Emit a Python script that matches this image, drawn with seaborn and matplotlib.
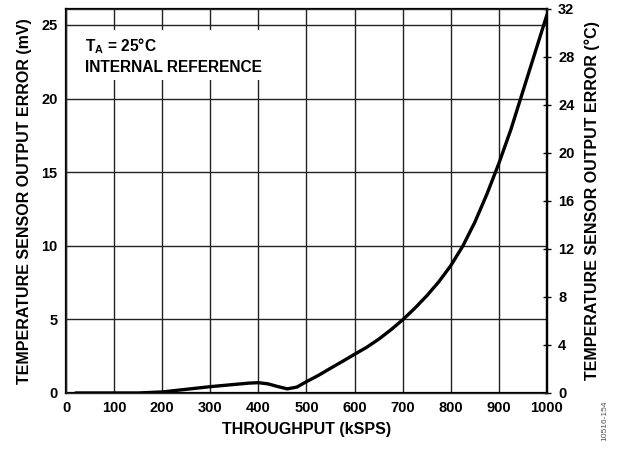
import matplotlib
matplotlib.use("Agg")

import matplotlib.pyplot as plt
import numpy as np
import pandas as pd
import seaborn as sns

# ─── DATA ────────────────────────────────────────────────────────
throughput = [20, 100, 150, 200, 250, 300, 350, 380, 400, 420, 440, 460, 480, 500,
              525, 550, 575, 600, 625, 650, 675, 700, 725, 750, 775, 800,
              825, 850, 875, 900, 925, 950, 975, 1000]
error_mv = [0.0, 0.0, 0.0, 0.07, 0.25, 0.43, 0.58, 0.67, 0.7, 0.62, 0.44, 0.28, 0.4, 0.77,
            1.2, 1.68, 2.15, 2.63, 3.1, 3.65, 4.28, 4.97, 5.75, 6.6, 7.55, 8.65,
            9.98, 11.6, 13.5, 15.6, 17.9, 20.5, 23.1, 25.7]

x_ticks = [0, 100, 200, 300, 400, 500, 600, 700, 800, 900, 1000]
y_ticks_mv = [0, 5, 10, 15, 20, 25]
y_ticks_c = [0, 4, 8, 12, 16, 20, 24, 28, 32]

FG = "#000000"
GRID = "#222222"
TICK_FS = 10.5
LABEL_FS = 11.5

sns.set_style("white")
plt.rcParams["font.family"] = ["Liberation Sans", "DejaVu Sans"]
plt.rcParams["font.weight"] = "bold"
plt.rcParams["text.color"] = FG
plt.rcParams["axes.labelcolor"] = FG
plt.rcParams["mathtext.fontset"] = "custom"
plt.rcParams["mathtext.rm"] = "Liberation Sans:bold"
plt.rcParams["mathtext.bf"] = "Liberation Sans:bold"
plt.rcParams["mathtext.it"] = "Liberation Sans:bold"

df = pd.DataFrame({"throughput": throughput, "error": error_mv})

fig = plt.figure(figsize=(6.18, 4.5), dpi=100)
ax = fig.add_axes([0.1068, 0.1267, 0.7783, 0.8533])

sns.lineplot(data=df, x="throughput", y="error", ax=ax, color=FG,
             linewidth=2.4, zorder=4)

ax.set_xlim(0, 1000)
ax.set_ylim(0, 26.08)
ax.set_xticks(x_ticks)
ax.set_yticks(y_ticks_mv)
ax.set_xticklabels([str(v) for v in x_ticks], fontsize=TICK_FS, fontweight="bold")
ax.set_yticklabels([str(v) for v in y_ticks_mv], fontsize=TICK_FS, fontweight="bold")
ax.tick_params(axis="both", length=0, pad=6, colors=FG)
ax.grid(True, color=GRID, linewidth=1.0)
for s in ax.spines.values():
    s.set_color(FG)
    s.set_linewidth(1.6)

ax.set_xlabel("THROUGHPUT (kSPS)", fontsize=LABEL_FS, fontweight="bold",
              labelpad=5, color=FG)
ax.set_ylabel("TEMPERATURE SENSOR OUTPUT ERROR (mV)", fontsize=LABEL_FS,
              fontweight="bold", labelpad=7, color=FG)

# right axis in degrees C
ax2 = ax.twinx()
ax2.set_ylim(0, 32)
ax2.set_yticks(y_ticks_c)
ax2.set_yticklabels([str(v) for v in y_ticks_c], fontsize=TICK_FS, fontweight="bold")
ax2.tick_params(axis="y", direction="inout", length=6, width=1.0, pad=5, colors=FG)
ax2.spines["right"].set_linewidth(1.6)
ax2.spines["right"].set_color(FG)
ax2.set_ylabel("TEMPERATURE SENSOR OUTPUT ERROR (°C)", fontsize=LABEL_FS,
               fontweight="bold", labelpad=7, rotation=90, color=FG)
ax2.grid(False)

ax.text(40, 24.25, "T$_\\mathregular{A}$ = 25°C\nINTERNAL REFERENCE",
        fontsize=11.2, fontweight="bold", va="top", ha="left", linespacing=1.4,
        color=FG, zorder=5, bbox=dict(facecolor="white", edgecolor="none", pad=3))

fig.text(0.985, 0.02, "10516-154", rotation=90, fontsize=6, color="#555555",
         fontweight="normal", ha="right", va="bottom")

fig.savefig("out.png", dpi=100, facecolor="white")
plt.close(fig)
